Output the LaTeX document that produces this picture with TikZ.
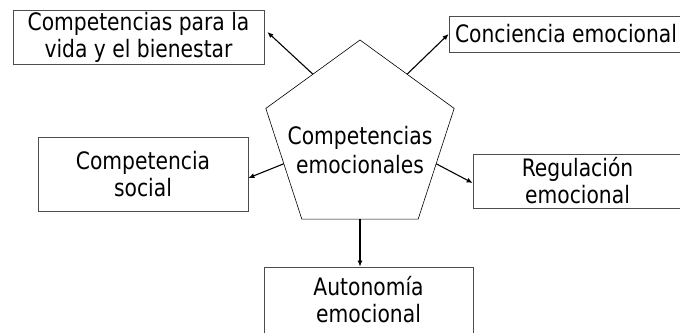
\documentclass[tikz,border=0pt]{standalone}
\usepackage{fontspec}
\setmainfont{DejaVu Sans}[FakeStretch=0.845]
\usetikzlibrary{shapes.geometric, arrows.meta, positioning, calc}
\tikzset{
  caja/.style = {
    draw=black!70, line width=0.7pt, inner sep=0pt,
    font=\fontsize{24}{27}\selectfont, text centered, align=center
  },
  centro/.style = {
    draw=black, line width=0.6pt, regular polygon, regular polygon sides=5,
    minimum size=198pt, inner sep=0pt, outer sep=0pt
  },
  flecha/.style = {
    line width=1.1pt, -{Latex[length=6pt,width=5pt]}
  }
}
\begin{document}
\begin{tikzpicture}[x=1pt, y=-1pt]
  \useasboundingbox (0,0) rectangle (680,332);
  \clip (0,0) rectangle (680,332);

  % Central pentagon
  \node[centro, label={[font=\fontsize{24}{29}\selectfont, align=center, yshift=-11pt]center:Competencias\\emocionales}] (emoc) at (360,139) {};

  % Boxes around it
  \node[caja, minimum width=251pt, minimum height=54pt] (vida) at (138.5,37) {Competencias para la\\vida y el bienestar};
  \node[caja, minimum width=234pt, minimum height=36pt] (conciencia) at (566,34) {Conciencia emocional};
  \node[caja, minimum width=210pt, minimum height=74pt] (social) at (143,174) {Competencia\\social};
  \node[caja, minimum width=209pt, minimum height=54pt] (regulacion) at (577.5,181) {Regulación\\emocional};
  \node[caja, minimum width=209pt, minimum height=66pt] (autonomia) at (368.5,300) {Autonomía\\emocional};

  % Arrows
  \draw[flecha] (emoc.side 1) -- ($(vida.east)+(3,-5)$);
  \draw[flecha] (emoc.side 5) -- (conciencia.west);
  \draw[flecha] (emoc.side 2) -- ($(social.east)+(0,4)$);
  \draw[flecha] (emoc.side 4) -- ($(regulacion.west)+(0,2)$);
  \draw[flecha] (emoc.side 3) -- (emoc.side 3 |- autonomia.north);

\end{tikzpicture}
\end{document}
